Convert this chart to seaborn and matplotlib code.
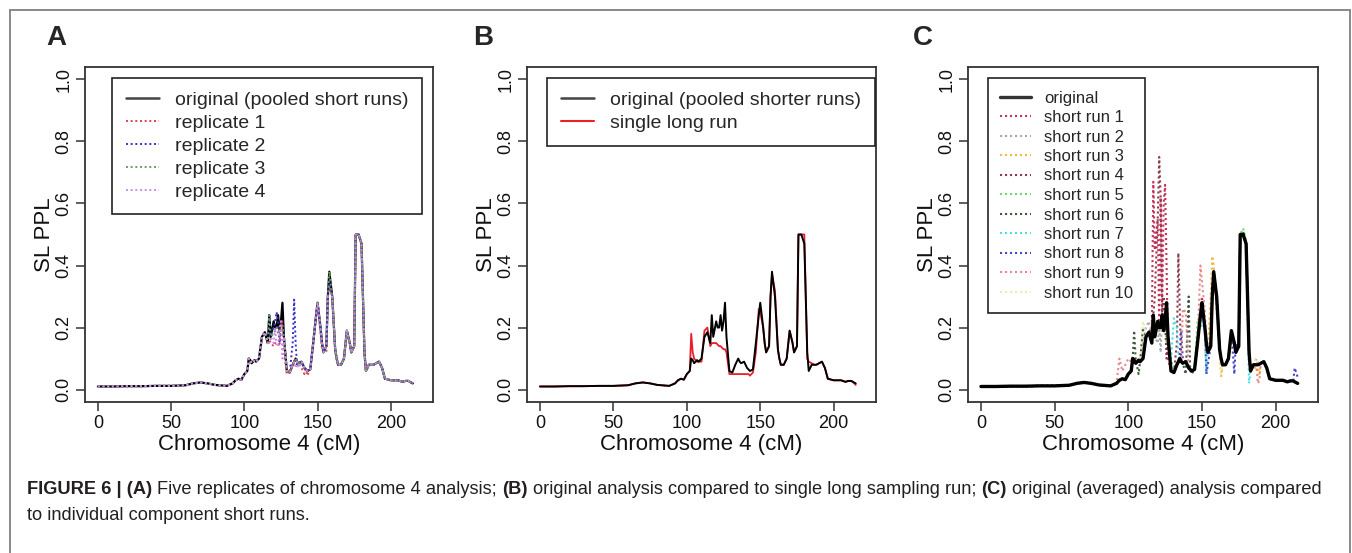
import matplotlib
matplotlib.use("Agg")
import matplotlib.pyplot as plt
from matplotlib.lines import Line2D
import seaborn as sns

# ---- data --------------------------------------------------------------------
# map position (cM) shared by every curve
cm = [0, 10, 20, 30, 40, 50, 60, 65, 70, 75, 80, 88, 92, 94, 96, 98, 100, 102,
      103, 104, 105, 107, 108, 110, 112, 114, 116, 117, 118, 120, 121, 122, 123,
      124, 125, 126, 127, 129, 131, 133, 134, 135, 136, 137, 139, 141, 142, 143,
      145, 147, 149, 150, 152, 153, 154, 156, 157, 158, 160, 162, 163, 164, 166,
      168, 170, 172, 173, 175, 176, 178, 180, 182, 183, 185, 187, 188, 189, 190,
      192, 194, 196, 200, 205, 208, 210, 212, 213, 215]

# original (pooled short runs) SL PPL
original = [0.010, 0.010, 0.011, 0.011, 0.012, 0.012, 0.014, 0.020, 0.023, 0.020,
            0.015, 0.012, 0.020, 0.030, 0.035, 0.032, 0.050, 0.060, 0.100, 0.095,
            0.085, 0.095, 0.090, 0.100, 0.170, 0.185, 0.150, 0.240, 0.170, 0.220,
            0.200, 0.200, 0.240, 0.190, 0.220, 0.280, 0.170, 0.060, 0.055, 0.080,
            0.090, 0.100, 0.090, 0.085, 0.090, 0.070, 0.065, 0.060, 0.065, 0.150,
            0.240, 0.280, 0.200, 0.150, 0.120, 0.140, 0.300, 0.380, 0.300, 0.130,
            0.100, 0.080, 0.080, 0.100, 0.190, 0.150, 0.120, 0.140, 0.500, 0.500,
            0.470, 0.120, 0.060, 0.080, 0.080, 0.080, 0.082, 0.085, 0.090, 0.070,
            0.035, 0.030, 0.030, 0.025, 0.028, 0.028, 0.025, 0.020]

# the other runs follow the original except at these positions (cM: value)
replicate_1 = {117: .16, 118: .15, 120: .14, 121: .15, 122: .15, 123: .15, 124: .14,
               126: .22, 127: .12, 129: .05, 139: .07, 141: .05, 143: .045,
               152: .18, 153: .13, 154: .13, 156: .12, 158: .33}
replicate_2 = {118: .18, 120: .20, 121: .22, 122: .25, 123: .22, 124: .15, 126: .20,
               133: .15, 134: .29, 135: .15, 136: .08, 158: .35}
replicate_3 = {120: .18, 121: .19, 122: .20, 123: .18, 124: .19, 126: .20}
replicate_4 = {117: .15, 120: .15, 122: .14, 123: .14, 126: .10, 135: .07,
               137: .07, 158: .30}

single_long_run = {103: .18, 104: .12, 105: .10, 107: .09, 108: .09, 110: .09,
                   112: .19, 114: .20, 116: .14, 117: .15, 118: .15, 120: .15,
                   121: .145, 122: .14, 123: .14, 124: .135, 125: .13, 126: .13,
                   127: .12, 129: .05, 131: .05, 133: .05, 134: .05, 135: .05,
                   136: .05, 137: .05, 139: .05, 141: .05, 142: .05, 143: .045,
                   145: .055, 147: .12, 149: .26, 150: .25, 152: .20, 158: .37,
                   160: .32, 180: .50, 182: .10, 183: .09, 185: .085, 215: .015}

short_runs = [
    {116: .20, 117: .67, 118: .45, 120: .55, 122: .62, 124: .60, 125: .66,
     126: .40, 127: .10, 150: .30},
    {110: .15, 112: .20, 114: .22, 116: .18, 120: .15, 122: .12, 158: .35},
    {156: .30, 157: .43, 158: .40, 160: .25, 163: .04, 187: .06, 189: .05},
    {118: .30, 120: .55, 121: .75, 122: .62, 124: .30, 126: .10, 133: .15,
     134: .44, 135: .25, 187: .10},
    {126: .15, 129: .10, 147: .22, 170: .15, 178: .52, 180: .48},
    {104: .19, 105: .10, 107: .05, 110: .20, 139: .05, 141: .30, 143: .05,
     178: .51},
    {129: .10, 131: .23, 133: .20, 134: .12, 150: .20, 153: .05, 157: .30,
     182: .02},
    {135: .12, 136: .19, 137: .10, 153: .05, 154: .08, 172: .05, 173: .15,
     213: .07, 215: .04},
    {94: .10, 96: .06, 98: .08, 100: .10, 102: .09, 137: .26, 139: .25,
     149: .40, 150: .35, 152: .25, 188: .02, 189: .03},
    {110: .22, 112: .18, 163: .05, 187: .10},
]

replicate_labels = ["replicate 1", "replicate 2", "replicate 3", "replicate 4"]
replicate_colors = ["#e0404f", "#3430c8", "#6b9b6b", "#c890e0"]
short_labels = [f"short run {i}" for i in range(1, 11)]
short_colors = ["#c8325a", "#a8a8a8", "#f5b840", "#8b3a4a", "#70d870",
                "#3d5a3d", "#50dede", "#4646c8", "#e88a8a", "#f0eab0"]

x_ticks = [0, 50, 100, 150, 200]
y_ticks = [0.0, 0.2, 0.4, 0.6, 0.8, 1.0]
x_label = "Chromosome 4 (cM)"
y_label = "SL PPL"

caption_line1 = [("FIGURE 6 | (A)", "bold"),
                 ("Five replicates of chromosome 4 analysis;", "normal"),
                 ("(B)", "bold"),
                 ("original analysis compared to single long sampling run;", "normal"),
                 ("(C)", "bold"),
                 ("original (averaged) analysis compared", "normal")]
caption_line2 = [("to individual component short runs.", "normal")]


def with_changes(changes):
    return [changes.get(x, y) for x, y in zip(cm, original)]


# ---- figure ------------------------------------------------------------------
sns.set_theme(style="white")
plt.rcParams["font.family"] = ["Liberation Sans", "DejaVu Sans"]

W, H = 1352, 553
fig = plt.figure(figsize=(W / 100, H / 100), dpi=100)
fig.patch.set_facecolor("white")

DOTS = (0, (1, 1.4))


def px_axes(left, top, right, bottom):
    return fig.add_axes([left / W, 1 - bottom / H, (right - left) / W, (bottom - top) / H])


def style_axes(ax, letter, letter_x):
    ax.set_xlim(-8.8, 228.8)
    ax.set_ylim(-0.04, 1.04)
    ax.set_xticks(x_ticks)
    ax.set_xticklabels([str(t) for t in x_ticks])
    ax.set_yticks(y_ticks)
    ax.set_yticklabels([f"{t:.1f}" for t in y_ticks])
    ax.tick_params(direction="out", length=6.5, width=1.1, color="#333333",
                   labelsize=13, pad=2.5, bottom=True, left=True, labelcolor="#111111")
    for lab in ax.get_yticklabels():
        lab.set_rotation(90)
        lab.set_va("center")
    for sp in ax.spines.values():
        sp.set_visible(True)
        sp.set_color("#333333")
        sp.set_linewidth(1.3)
    ax.set_xlabel(x_label, fontsize=16, color="#111111", va="center")
    ax.xaxis.set_label_coords(0.5, -0.128)
    ax.set_ylabel(y_label, fontsize=16, color="#111111", va="center")
    ax.yaxis.set_label_coords(-0.115, 0.5)
    ax.grid(False)
    fig.text(letter_x / W, 1 - 38 / H, letter, fontsize=20, fontweight="bold",
             ha="center", va="center")


def draw(ax, values, color, lw, ls):
    sns.lineplot(x=cm, y=values, ax=ax, color=color, lw=lw, linestyle=ls,
                 estimator=None, sort=False, legend=False)


def add_legend(ax, handles, labels, left, top, size, hlen, hpad, bpad):
    leg = ax.legend(handles, labels, loc="upper left",
                    bbox_to_anchor=(left / W, 1 - top / H), bbox_transform=fig.transFigure,
                    borderaxespad=0, frameon=True, fancybox=False, framealpha=1,
                    edgecolor="#222222", prop={"size": size}, handlelength=hlen,
                    handletextpad=hpad, borderpad=bpad, labelspacing=0.27)
    leg.get_frame().set_linewidth(1.2)


# A: replicates
axA = px_axes(85, 67, 433, 402)
draw(axA, original, "black", 1.6, "-")
for ch, col in zip([replicate_1, replicate_2, replicate_3, replicate_4], replicate_colors):
    draw(axA, with_changes(ch), col, 1.4, DOTS)
style_axes(axA, "A", 56)
hA = [Line2D([], [], color="#444444", lw=1.8)] + \
     [Line2D([], [], color=c, lw=1.4, linestyle=DOTS) for c in replicate_colors]
add_legend(axA, hA, ["original (pooled short runs)"] + replicate_labels,
           112, 78, 14, 1.7, 0.85, 0.7)

# B: single long run
axB = px_axes(527, 67, 876, 402)
draw(axB, with_changes(single_long_run), "#e8202a", 1.3, "-")
draw(axB, original, "black", 1.4, "-")
style_axes(axB, "B", 483)
hB = [Line2D([], [], color="#444444", lw=1.8), Line2D([], [], color="#e8202a", lw=1.5)]
add_legend(axB, hB, ["original (pooled shorter runs)", "single long run"],
           547, 78, 14, 1.7, 0.85, 0.7)

# C: individual short runs
axC = px_axes(968, 67, 1318, 402)
for ch, col in zip(short_runs, short_colors):
    draw(axC, with_changes(ch), col, 1.5, DOTS)
draw(axC, original, "black", 2.4, "-")
style_axes(axC, "C", 923)
hC = [Line2D([], [], color="#333333", lw=2.4)] + \
     [Line2D([], [], color=c, lw=1.5, linestyle=DOTS) for c in short_colors]
add_legend(axC, hC, ["original"] + short_labels, 988, 78, 12, 1.8, 0.8, 0.75)

# outer frame
for xs, ys in [([9.5, 9.5], [H, 9.5]), ([9.5, 1349.5], [9.5, 9.5]), ([1349.5, 1349.5], [9.5, H])]:
    fig.add_artist(Line2D([x / W for x in xs], [1 - y / H for y in ys], color="#808080",
                          lw=1.3, transform=fig.transFigure))

# caption with bold run-in labels
renderer = fig.canvas.get_renderer()


def text_width(s, size, weight):
    t = fig.text(0, 0, s, fontsize=size, fontweight=weight)
    w = t.get_window_extent(renderer).width
    t.remove()
    return w


def line_width(runs, size):
    space = text_width("a a", size, "normal") - text_width("aa", size, "normal")
    return sum(text_width(s, size, w) for s, w in runs) + space * (len(runs) - 1)


cap_size = 10 * 1300 / line_width(caption_line1, 10)


def draw_caption(runs, y):
    x = 27
    space = text_width("a a", cap_size, "normal") - text_width("aa", cap_size, "normal")
    for s, w in runs:
        fig.text(x / W, 1 - y / H, s, fontsize=cap_size, fontweight=w, color="#231f20",
                 ha="left", va="center")
        x += text_width(s, cap_size, w) + space


draw_caption(caption_line1, 490)
draw_caption(caption_line2, 516)

fig.savefig("out.png", dpi=100)
